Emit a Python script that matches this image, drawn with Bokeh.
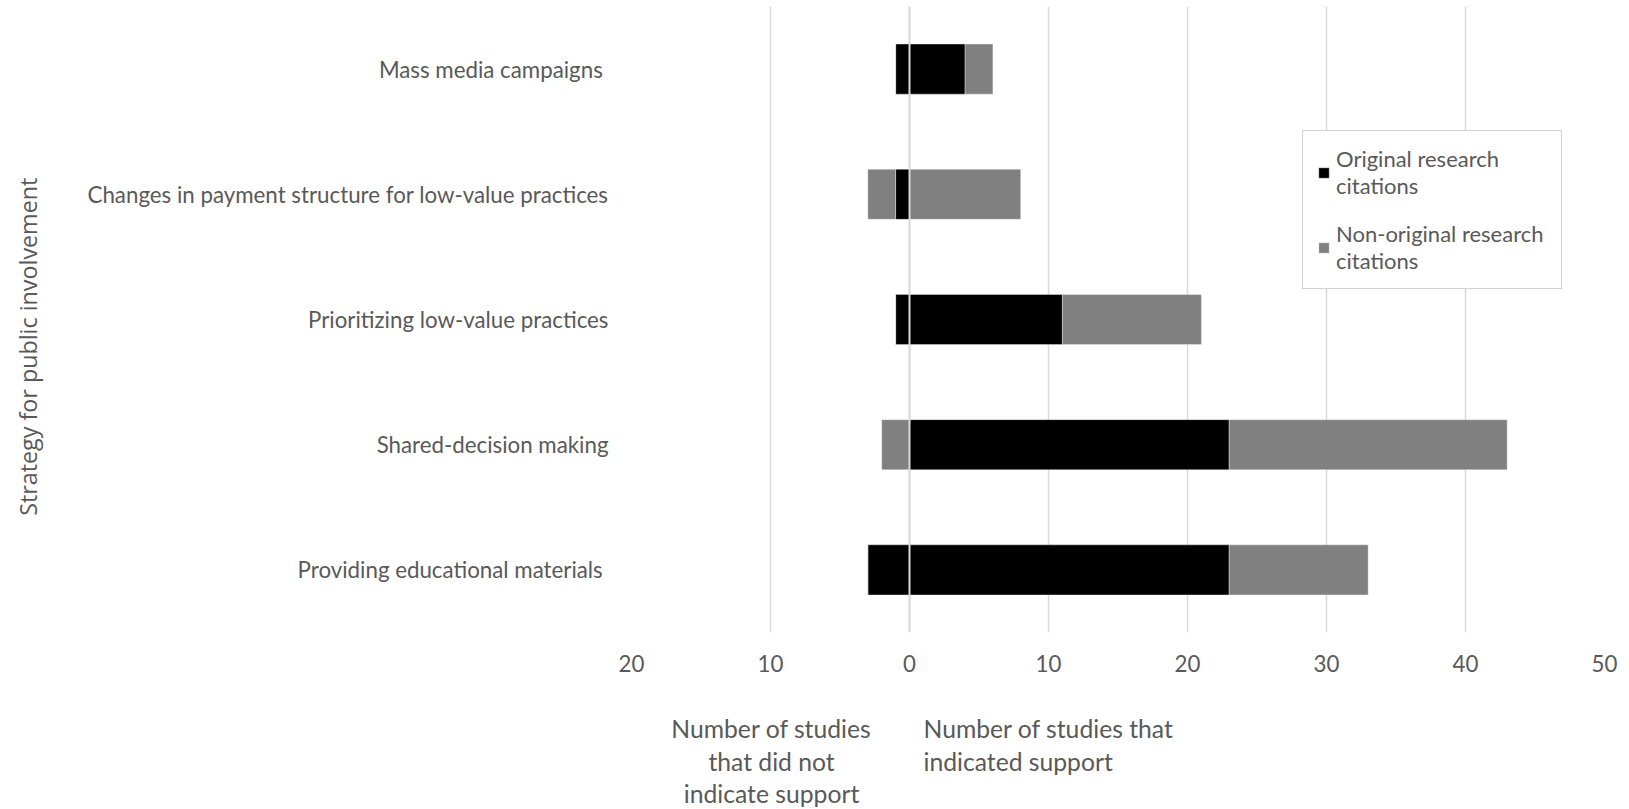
from bokeh.plotting import figure
from bokeh.models import (FactorRange, Range1d, FixedTicker, Span,
                          Legend, LegendItem, ColumnDataSource)
from bokeh.core.properties import value
from bokeh.layouts import column
from bokeh.embed import file_html
from bokeh.resources import INLINE

# Strategies, listed top to bottom
categories = [
    "Mass media campaigns ",
    "Changes in payment structure for low-value practices",
    "Prioritizing low-value practices",
    "Shared-decision making",
    "Providing educational materials ",
]

# Studies that indicated support
support_original = [4, 0, 11, 23, 23]
support_nonoriginal = [2, 8, 10, 20, 10]

# Studies that did not indicate support (drawn to the left of zero)
nosupport_original = [1, 1, 1, 0, 3]
nosupport_nonoriginal = [0, 2, 0, 2, 0]

x_ticks = [-20, -10, 0, 10, 20, 30, 40, 50]
x_tick_labels = ["20", "10", "0", "10", "20", "30", "40", "50"]

series_names = ["Original research\ncitations", "Non-original research\ncitations"]
colors = ["#000000", "#808080"]

y_title = "Strategy for public involvement"
x_title_left = ["Number of studies", "that did not", "indicate support"]
x_title_right = ["Number of studies that", "indicated support"]

TEXT = "#595959"
LABEL_FONT = "Lato"
LABEL_SIZE = "22.3px"
CAPTION_SIZE = "24.7px"
W = 1629
H_MAIN = 700
H_NOTES = 109
FRAME_LEFT, FRAME_RIGHT = 631, 1604

# Left/right edges of each stacked segment
pos_non_right = [a + b for a, b in zip(support_original, support_nonoriginal)]
neg_orig_left = [-a for a in nosupport_original]
neg_non_left = [-(a + b) for a, b in zip(nosupport_original, nosupport_nonoriginal)]

src = ColumnDataSource(dict(
    cat=categories,
    zero=[0] * len(categories),
    pos_orig_right=support_original,
    pos_non_left=support_original,
    pos_non_right=pos_non_right,
    neg_orig_left=neg_orig_left,
    neg_non_left=neg_non_left,
    neg_non_right=neg_orig_left,
))

p = figure(
    width=W, height=H_MAIN,
    y_range=FactorRange(factors=list(reversed(categories)), range_padding=0),
    x_range=Range1d(-20, 50),
    output_backend="svg", toolbar_location=None,
    min_border_left=FRAME_LEFT, min_border_right=W - FRAME_RIGHT,
    min_border_top=6, min_border_bottom=H_MAIN - 632,
)
p.outline_line_color = None

bar_h = 0.4
edge = dict(line_color="white", line_width=0.8, line_alpha=0.45)

r_orig = p.hbar(y="cat", left="zero", right="pos_orig_right", height=bar_h,
                fill_color=colors[0], source=src, **edge)
r_non = p.hbar(y="cat", left="pos_non_left", right="pos_non_right", height=bar_h,
               fill_color=colors[1], source=src, **edge)
p.hbar(y="cat", left="neg_orig_left", right="zero", height=bar_h,
       fill_color=colors[0], source=src, **edge)
p.hbar(y="cat", left="neg_non_left", right="neg_non_right", height=bar_h,
       fill_color=colors[1], source=src, **edge)

# zero line drawn over the bars
p.add_layout(Span(location=0, dimension="height", line_color="#d9d9d9", line_width=2))

# x axis: magnitudes on both sides of zero
p.xaxis.ticker = FixedTicker(ticks=x_ticks)
p.xaxis.major_label_overrides = {t: s for t, s in zip(x_ticks, x_tick_labels)}
p.xaxis.axis_line_color = None
p.xaxis.major_tick_line_color = None
p.xaxis.major_tick_out = 0
p.xaxis.minor_tick_line_color = None
p.xaxis.major_label_standoff = 22
p.xaxis.major_label_text_font = LABEL_FONT
p.xaxis.major_label_text_font_size = LABEL_SIZE
p.xaxis.major_label_text_color = TEXT

p.xgrid.grid_line_color = "#d9d9d9"
p.xgrid.grid_line_width = 1.5
p.ygrid.grid_line_color = None

# y axis
p.yaxis.axis_line_color = None
p.yaxis.major_tick_line_color = None
p.yaxis.major_tick_out = 0
p.yaxis.minor_tick_line_color = None
p.yaxis.major_label_standoff = 23
p.yaxis.major_label_text_font = LABEL_FONT
p.yaxis.major_label_text_font_size = LABEL_SIZE
p.yaxis.major_label_text_color = TEXT
p.yaxis.axis_label = y_title + " " * 9
p.yaxis.axis_label_text_font = "Open Sans"
p.yaxis.axis_label_text_font_style = "normal"
p.yaxis.axis_label_text_font_size = "23.3px"
p.yaxis.axis_label_text_color = TEXT
p.yaxis.axis_label_standoff = 41

legend = Legend(
    items=[LegendItem(label=series_names[0], renderers=[r_orig]),
           LegendItem(label=series_names[1], renderers=[r_non])],
    location=(671, 343),
    border_line_color="#a6a6a6", border_line_width=1.5,
    background_fill_color="white", background_fill_alpha=1,
    label_text_font=LABEL_FONT, label_text_font_size="22px",
    label_text_color=TEXT, label_text_line_height=1.32,
    label_width=211,
    glyph_width=13, glyph_height=13, label_standoff=6,
    padding=14, spacing=21, margin=0,
)
p.add_layout(legend)

# strip under the chart holding the two x-axis captions;
# its frame lines up with the chart frame, x measured in page pixels
notes = figure(
    width=W, height=H_NOTES,
    x_range=Range1d(FRAME_LEFT, FRAME_RIGHT), y_range=Range1d(H_NOTES, 0),
    output_backend="svg", toolbar_location=None,
    min_border_left=FRAME_LEFT, min_border_right=W - FRAME_RIGHT,
    min_border_top=0, min_border_bottom=0,
)
notes.axis.visible = False
notes.grid.visible = False
notes.outline_line_color = None

line_step = 32.5
notes.text(x=[771] * len(x_title_left),
           y=[28 + line_step * i for i in range(len(x_title_left))],
           text=x_title_left, text_align="center", text_baseline="middle",
           text_font=value(LABEL_FONT), text_font_size=value(CAPTION_SIZE),
           text_color=TEXT)
notes.text(x=[923] * len(x_title_right),
           y=[28 + line_step * i for i in range(len(x_title_right))],
           text=x_title_right, text_align="left", text_baseline="middle",
           text_font=value(LABEL_FONT), text_font_size=value(CAPTION_SIZE),
           text_color=TEXT)

layout = column(p, notes, spacing=0)
open("out.html", "w").write(file_html(layout, INLINE))
